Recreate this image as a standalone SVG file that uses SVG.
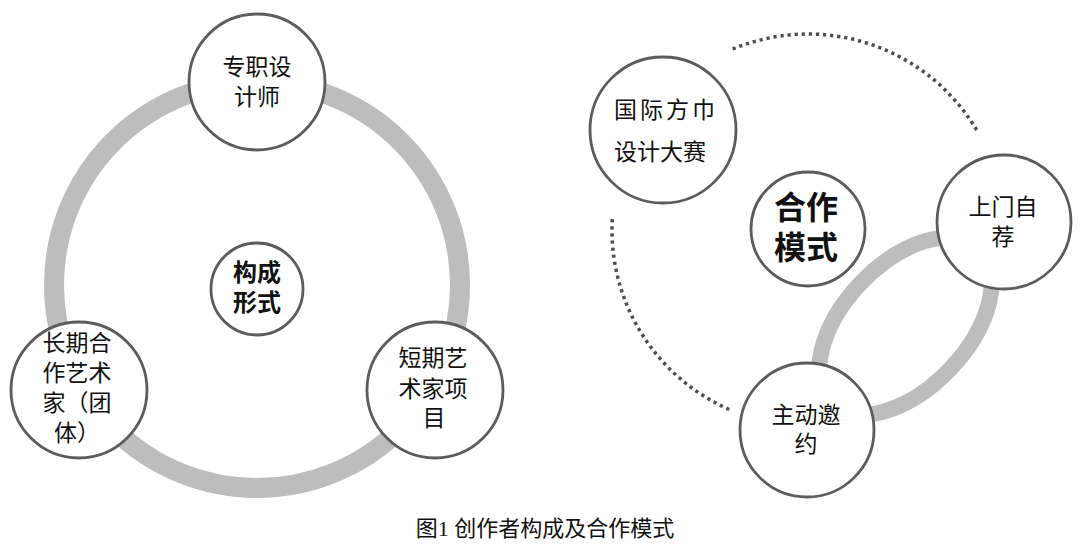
<svg xmlns="http://www.w3.org/2000/svg" width="1091" height="549" viewBox="0 0 1091 549">
<style>
.node{fill:#ffffff;stroke:#5c5c5c;stroke-width:2.8}
.band{fill:none;stroke:#bdbdbd}
.dots{fill:none;stroke:#4d4d4d;stroke-width:3.5;stroke-dasharray:3.2 3.9}
.t{font-family:"Noto Sans CJK SC","Noto Sans CJK JP",sans-serif;font-size:23px;fill:#111;text-anchor:middle}
.b{font-family:"Noto Sans CJK SC","Noto Sans CJK JP",sans-serif;font-weight:bold;fill:#111;text-anchor:middle}
.cap{font-family:"Liberation Serif","Noto Sans CJK SC",serif;font-size:22px;fill:#111;text-anchor:middle}
</style>
<rect width="1091" height="549" fill="#ffffff"/>
<g id="connectors">
<circle class="band" cx="257" cy="285" r="203" stroke-width="20"/>
<ellipse class="band" cx="905.5" cy="326" rx="107" ry="62" stroke-width="16" transform="rotate(-46.5 905.5 326)"/>
<path class="dots" d="M 732.7 49.1 A 196 196 0 0 1 976.7 130.2"/>
<path class="dots" d="M 729.2 409.5 A 196 196 0 0 1 612.5 216.0"/>
</g>
<g id="node-zhuanzhi">
<circle class="node" cx="257" cy="82" r="68"/>
<text class="t" x="257" y="75">专职设</text>
<text class="t" x="257" y="105">计师</text>
</g>
<g id="node-goucheng">
<circle class="node" cx="257" cy="289" r="46"/>
<text class="b" x="257" y="281" font-size="24">构成</text>
<text class="b" x="257" y="311" font-size="24">形式</text>
</g>
<g id="node-changqi">
<circle class="node" cx="79" cy="390" r="68"/>
<text class="t" x="77" y="351">长期合</text>
<text class="t" x="77" y="381">作艺术</text>
<text class="t" x="77" y="411">家（团</text>
<text class="t" x="77" y="441">体）</text>
</g>
<g id="node-duanqi">
<circle class="node" cx="435" cy="390" r="68"/>
<text class="t" x="433" y="366">短期艺</text>
<text class="t" x="433" y="397">术家项</text>
<text class="t" x="434" y="426">目</text>
</g>
<g id="node-dasai">
<circle class="node" cx="663" cy="130" r="73"/>
<text class="t" x="614" y="118" font-size="24" style="text-anchor:start" letter-spacing="3">国际方巾</text>
<text class="t" x="614" y="160" font-size="24" style="text-anchor:start">设计大赛</text>
</g>
<g id="node-hezuo">
<circle class="node" cx="808" cy="229" r="57"/>
<text class="b" x="806" y="219" font-size="32">合作</text>
<text class="b" x="806" y="259" font-size="32">模式</text>
</g>
<g id="node-shangmen">
<circle class="node" cx="1004" cy="222" r="67"/>
<text class="t" x="1003" y="215">上门自</text>
<text class="t" x="1003" y="245">荐</text>
</g>
<g id="node-zhudong">
<circle class="node" cx="807" cy="430" r="67"/>
<text class="t" x="806" y="423">主动邀</text>
<text class="t" x="806" y="452">约</text>
</g>
<text class="cap" x="545" y="536">图1 创作者构成及合作模式</text>
</svg>
